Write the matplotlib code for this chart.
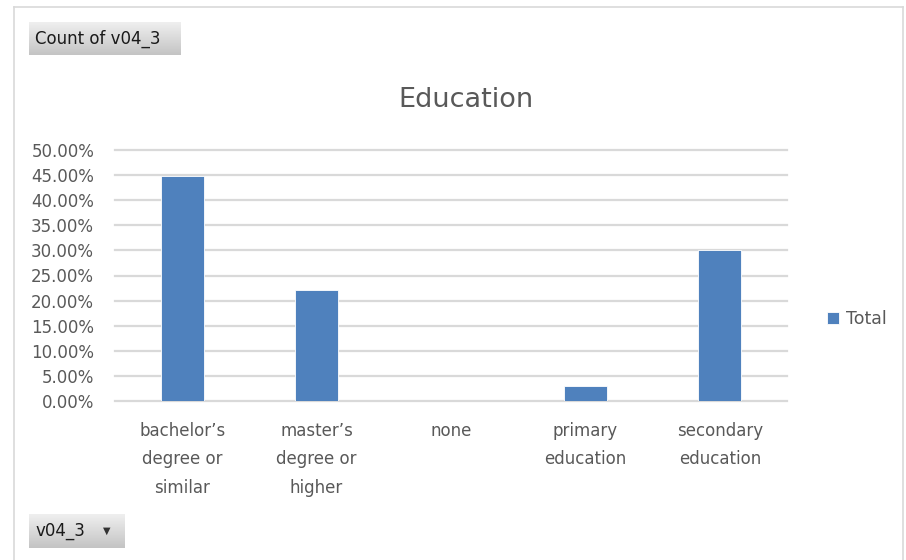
import matplotlib.pyplot as plt
import numpy as np
from matplotlib.lines import Line2D
from matplotlib.ticker import PercentFormatter

categories = ["bachelor\u2019s\ndegree or\nsimilar", "master\u2019s\ndegree or\nhigher", "none",
              "primary\neducation", "secondary\neducation"]
share = [44.9, 22.2, 0.0, 2.9, 30.0]
yticks = np.arange(0, 55, 5)

W, H = 906, 560
fig = plt.figure(figsize=(W / 100, H / 100), dpi=100)
fig.patch.set_facecolor("white")

def fx(px):
    return px / W

def fy(py):
    return 1 - py / H

# outer chart frame
for xs, ys in [([14, 14], [7, 570]), ([14, 903], [7, 7]), ([903, 903], [7, 570])]:
    fig.add_artist(Line2D([fx(x) for x in xs], [fy(y) for y in ys], color="#d9d9d9", lw=1.2))

ax = fig.add_axes([fx(115), fy(401), fx(787 - 115), (401 - 150) / H])
x = np.arange(len(categories))
ax.bar(x, share, width=0.32, color="#4f81bd", edgecolor="white", linewidth=0.6, zorder=3, label="Total")
ax.set_xlim(-0.5, len(categories) - 0.5)
ax.set_ylim(0, 50)
ax.set_yticks(yticks)
ax.yaxis.set_major_formatter(PercentFormatter(decimals=2))
ax.grid(axis="y", color="#d9d9d9", lw=1.6, zorder=0)
for gl in ax.get_ygridlines():
    gl.set_clip_on(False)
for s in ax.spines.values():
    s.set_visible(False)
ax.tick_params(axis="y", length=0, pad=15, labelsize=12, labelcolor="#595959")
ax.tick_params(axis="x", length=0, pad=15, labelsize=12, labelcolor="#595959")
ax.set_xticks(x)
ax.set_xticklabels(categories, linespacing=1.75, va="top")

fig.text(fx(466), fy(100), "Education", ha="center", va="center", fontsize=19.5, color="#595959")

leg = ax.legend(loc="center left", bbox_to_anchor=(fx(811), fy(319)), bbox_transform=fig.transFigure,
                frameon=False, handlelength=0.7, handleheight=0.7, handletextpad=0.4, fontsize=12.5)
for t in leg.get_texts():
    t.set_color("#595959")

# pivot-table field buttons
grad = np.linspace(0, 1, 50).reshape(-1, 1)
def button(x0, y0, x1, y1, label, arrow=False):
    bax = fig.add_axes([fx(x0), fy(y1), fx(x1 - x0), (y1 - y0) / H])
    bax.imshow(grad, aspect="auto", cmap=plt.matplotlib.colors.LinearSegmentedColormap.from_list(
        "g", ["#efefef", "#c4c4c4"]), extent=[0, 1, 0, 1], origin="upper")
    bax.set_axis_off()
    fig.text(fx(x0 + 6), fy((y0 + y1) / 2), label, ha="left", va="center", fontsize=12, color="#1a1a1a")
    if arrow:
        fig.text(fx(x1 - 18), fy((y0 + y1) / 2), "\u25bc", ha="center", va="center", fontsize=7, color="#333333")

button(29, 22, 181, 55, "Count of v04_3")
button(29, 514, 125, 548, "v04_3", arrow=True)

fig.savefig("out.png", dpi=100)
